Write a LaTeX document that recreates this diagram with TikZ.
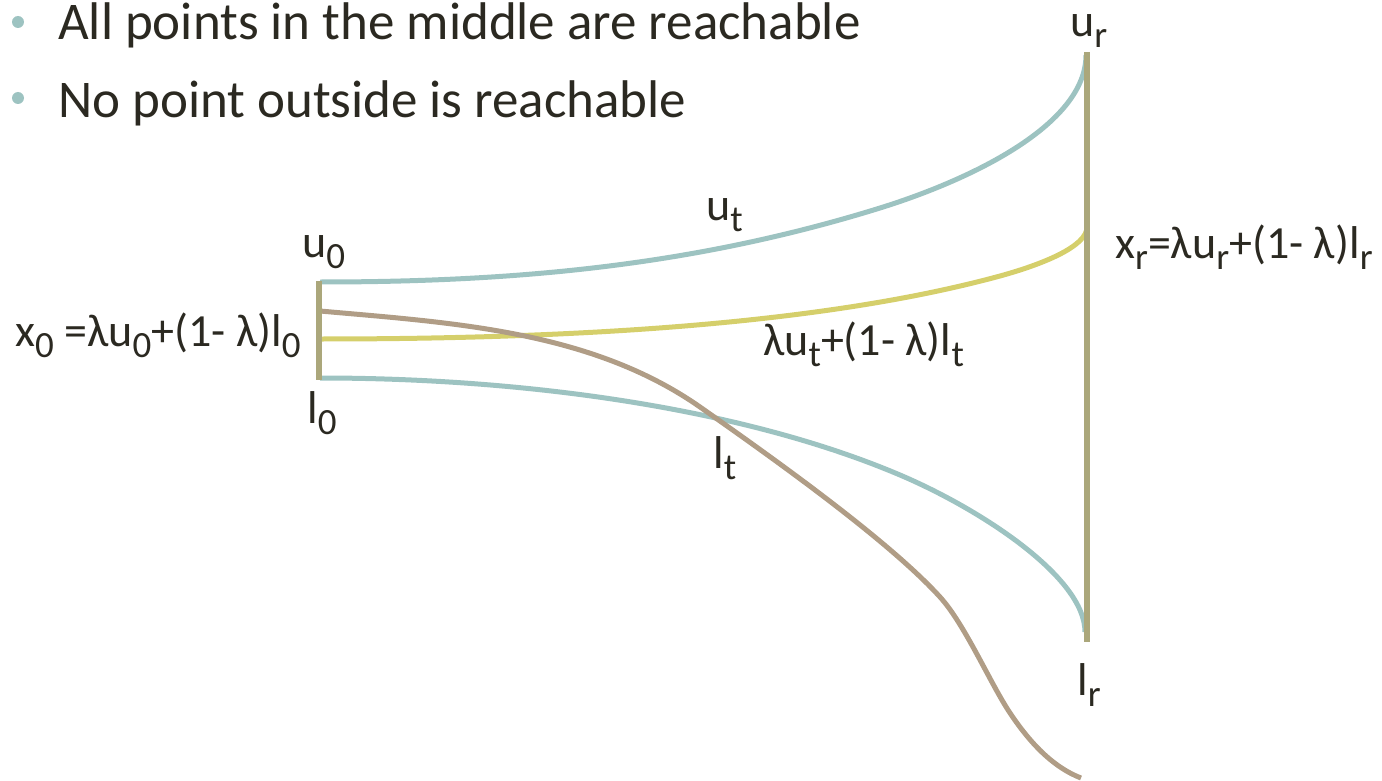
\documentclass[tikz,border=0pt]{standalone}
\usepackage{fontspec}
\setmainfont{Carlito}
\definecolor{tealc}{HTML}{9DC3C1}
\definecolor{yellc}{HTML}{D5CF6B}
\definecolor{brownc}{HTML}{B09D86}
\definecolor{barc}{HTML}{ABA77B}
\definecolor{txtc}{HTML}{2B2921}
\newcommand\lo[1]{\raisebox{-11pt}{\fontsize{37}{40}\selectfont #1}}
\begin{document}
\begin{tikzpicture}[x=1pt,y=-1pt,
  curve/.style={line width=5pt},
  bar/.style={line width=5.5pt,draw=barc},
  lbl/.style={inner sep=0pt,anchor=base west,text=txtc,font=\fontsize{46}{56}\selectfont},
  blt/.style={inner sep=0pt,anchor=base west,text=txtc,font=\fontsize{53}{62}\selectfont},
  dot/.style={circle,fill=tealc,inner sep=0pt,minimum size=12pt}]
\useasboundingbox (0,0) rectangle (1382,781);
% bullets
\node[dot] (d1) at (18,22) {};
\node[dot] (d2) at (18,98) {};
\node[blt] (b1) at (58,40) {All points in the middle are reachable};
\node[blt] (b2) at (58,118) {No point outside is reachable};
% key points
\coordinate (u0) at (320,282);
\coordinate (x0) at (320,339);
\coordinate (l0) at (320,378);
\coordinate (b0) at (320,311);
\coordinate (um) at (880,208);
\coordinate (ur) at (1086,55);
\coordinate (xm) at (1000,276);
\coordinate (xr) at (1087,227);
\coordinate (lm) at (900,475);
\coordinate (lr) at (1085,632);
\coordinate (bA) at (700,407);
\coordinate (bB) at (940,597);
\coordinate (bC) at (1010,713);
\coordinate (bend) at (1081,778);
\coordinate (rtop) at (1087,52);
\coordinate (rbot) at (1087,642);
\coordinate (ltop) at (319,281);
\coordinate (lbot) at (319,380);
% curves
\draw[curve,tealc] (u0) .. controls (510,282) and (690,267) .. (um)
  .. controls (970,180) and (1086,125) .. (ur);
\draw[curve,yellc] (x0) .. controls (570,339) and (820,325) .. (xm)
  .. controls (1040,265) and (1087,247) .. (xr);
\draw[curve,tealc] (l0) .. controls (520,378) and (740,407) .. (lm)
  .. controls (980,509) and (1085,577) .. (lr);
\draw[curve,brownc] (b0) .. controls (450,322.7) and (590,330) .. (bA)
  .. controls (780,463) and (890,542) .. (bB)
  .. controls (965,624.5) and (990,683) .. (bC)
  .. controls (1032,746) and (1055,768) .. (bend);
% bars
\draw[bar] (ltop) -- (lbot);
\draw[bar] (rtop) -- (rbot);
% labels
\node[lbl] (lu0) at (302,257) {u\lo{0}};
\node[lbl] (lx0) at (15,346) {x\lo{0} =λu\lo{0}+(1- λ)l\lo{0}};
\node[lbl] (ll0) at (307,423) {l\lo{0}};
\node[lbl] (lut) at (706,220) {u\lo{t}};
\node[lbl] (lxt) at (763,355) {λu\lo{t}+(1- λ)l\lo{t}};
\node[lbl] (llt) at (713,468) {l\lo{t}};
\node[lbl] (lur) at (1070,37) {u\lo{r}};
\node[lbl] (lxr) at (1115,258) {x\lo{r}=λu\lo{r}+(1- λ)l\lo{r}};
\node[lbl] (llr) at (1077,695) {l\lo{r}};
\end{tikzpicture}
\end{document}
